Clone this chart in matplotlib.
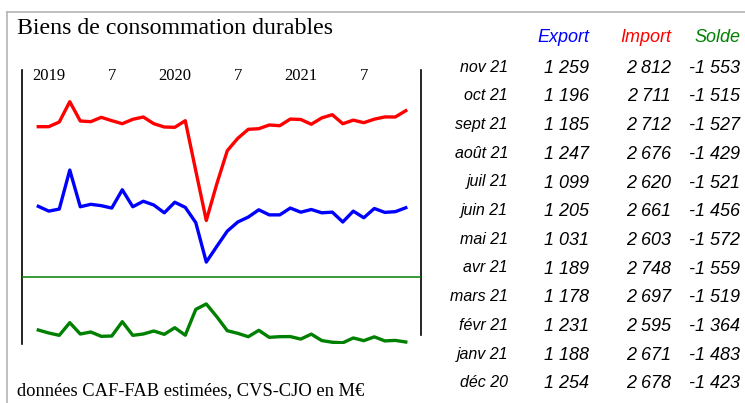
import matplotlib.pyplot as plt
from matplotlib.lines import Line2D

# mois de déc 2018 à nov 2021
export = [1282, 1205, 1238, 1862, 1275, 1314, 1292, 1254, 1547, 1275, 1363, 1303,
          1178, 1347, 1265, 1021, 390, 640, 885, 1031, 1110, 1226, 1145, 1145,
          1254, 1188, 1231, 1178, 1189, 1031, 1205, 1099, 1247, 1185, 1196, 1259]
importv = [2556, 2556, 2631, 2956, 2647, 2636, 2706, 2652, 2604, 2674, 2711, 2604,
           2551, 2546, 2652, 1850, 1055, 1640, 2172, 2370, 2514, 2524, 2583, 2572,
           2678, 2671, 2595, 2697, 2748, 2603, 2661, 2620, 2676, 2712, 2711, 2812]
solde = [-1265, -1337, -1393, -1089, -1361, -1313, -1417, -1409, -1065, -1393, -1361, -1289,
         -1369, -1210, -1390, -770, -640, -946, -1282, -1345, -1426, -1273, -1441, -1425,
         -1423, -1483, -1364, -1519, -1559, -1572, -1456, -1521, -1429, -1527, -1515, -1553]
mois_table = ["déc 20", "janv 21", "févr 21", "mars 21", "avr 21", "mai 21",
              "juin 21", "juil 21", "août 21", "sept 21", "oct 21", "nov 21"]
reperes = [1, 7, 13, 19, 25, 31]
reperes_txt = ["2019", "7", "2020", "7", "2021", "7"]

BLEU, ROUGE, VERT = "#0000FF", "#FF0000", "#008000"
W, H = 745, 403

fig = plt.figure(figsize=(W / 100, H / 100), dpi=100)

def fx(px):
    return px / W

def fy(py):
    return 1 - py / H

# cadre gris
fig.add_artist(Line2D([fx(7.5), 1], [fy(11.5), fy(11.5)], color="#b4b4b4", lw=1.2))
fig.add_artist(Line2D([fx(7.5), fx(7.5)], [fy(11.5), 0], color="#b4b4b4", lw=1.2))

ax = fig.add_axes([fx(22), fy(344), fx(420.7) - fx(22), fy(70) - fy(344)])
x = list(range(len(export)))
ax.plot(x, importv, color=ROUGE, lw=2.4)
ax.plot(x, export, color=BLEU, lw=2.4)
ax.set_xlim(-1.55, 36.42)
ax.set_ylim(-921, 3463)
ax.set_xticks([])
ax.set_yticks([])
for s in ["top", "bottom"]:
    ax.spines[s].set_visible(False)
ax.spines["left"].set_linewidth(1.2)
ax.spines["right"].set_linewidth(1.2)
ax.spines["right"].set_bounds(-777, 3463)
ax.patch.set_alpha(0)

ax2 = ax.twinx()
ax2.plot(x, solde, color=VERT, lw=2.4)
ax2.axhline(0, color=VERT, lw=1.1)
ax2.set_ylim(-1601, 4975)
ax2.set_yticks([])
for s in ax2.spines.values():
    s.set_visible(False)

for xi, t in zip(reperes, reperes_txt):
    ax.text(xi, 0.9635, t, transform=ax.get_xaxis_transform(), ha="center",
            va="baseline", family="Liberation Serif", fontsize=12)

fig.text(fx(17), fy(34.3), "Biens de consommation durables", family="Liberation Serif",
         fontsize=17.2, va="baseline")
fig.text(fx(17), fy(395), "données CAF-FAB estimées, CVS-CJO en M€", family="Liberation Serif",
         fontsize=13.3, va="baseline")

# tableau
def fmt(v):
    return f"{v:,}".replace(",", " ")

cols = [(fx(589), "Export", BLEU, export), (fx(671), "Import", ROUGE, importv),
        (fx(740), "Solde", VERT, solde)]
for xc, titre, c, serie in cols:
    fig.text(xc, fy(42.3), titre, color=c, ha="right", va="baseline",
             family="Liberation Sans", style="italic", fontsize=13)

n = len(mois_table)
for i in range(n):
    k = len(export) - 1 - i
    yb = fy(72.7 + 28.7 * i)
    fig.text(fx(508), fy(71.5 + 28.7 * i), mois_table[n - 1 - i], ha="right", va="baseline",
             family="Liberation Sans", style="italic", fontsize=11.5)
    for xc, titre, c, serie in cols:
        fig.text(xc, yb, fmt(serie[k]), ha="right", va="baseline",
                 family="Liberation Sans", style="italic", fontsize=13)

fig.savefig("out.png", dpi=100)
